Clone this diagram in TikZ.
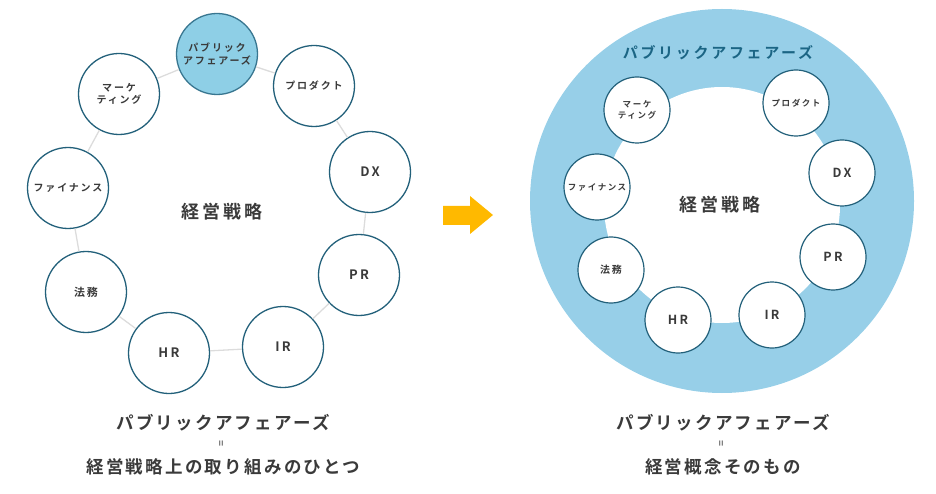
\documentclass[tikz,border=0pt]{standalone}
\usepackage{fontspec}
\newfontfamily\jp{Noto Sans CJK JP Bold}[LetterSpace=18]
\newfontfamily\jpc{Noto Sans CJK JP Bold}[LetterSpace=13]
\definecolor{ring}{HTML}{22607A}
\definecolor{pa}{HTML}{8ECFE6}
\definecolor{big}{HTML}{97CFE8}
\definecolor{txt}{HTML}{3A3A3A}
\definecolor{ttl}{HTML}{1B6584}
\definecolor{link}{HTML}{DCDCDC}
\definecolor{arr}{HTML}{FFB900}
\begin{document}
\begin{tikzpicture}[x=1pt,y=-1pt,
  pc/.style={circle, draw=ring, line width=1.3pt, fill=white, minimum size=81pt, inner sep=0pt, align=center, text=txt, font=\jp\fontsize{10}{12.5}\selectfont},
  pcs/.style={circle, draw=ring, line width=1.2pt, fill=white, minimum size=66pt, inner sep=0pt, align=center, text=txt, font=\jp\fontsize{8.5}{11}\selectfont},
  latin/.style={font=\jp\fontsize{13}{15}\selectfont},
  latins/.style={font=\jp\fontsize{12.5}{15}\selectfont},
  lk/.style={draw=link, line width=1.3pt},
  captxt/.style={text=txt, font=\jpc\fontsize{17.5}{20}\selectfont, inner sep=0pt},
  eqtxt/.style={text=txt!80, font=\jpc\fontsize{10}{10}\selectfont, rotate=90, inner sep=0pt},
  ctrtxt/.style={text=txt, font=\jp\fontsize{18}{20}\selectfont, inner sep=0pt}]
\useasboundingbox (0,0) rectangle (936,494);
% ---------- left ----------
\node[pc, fill=pa, draw=ring!80!pa] (pa) at (217,54) {パブリック\\アフェアーズ};
\node[pc] (prod) at (314,86) {プロダクト};
\node[pc, latin] (dx) at (370,172) {DX};
\node[pc, latin] (pr) at (359,275) {PR};
\node[pc, latin] (ir) at (283,347) {IR};
\node[pc, latin] (hr) at (169,353) {HR};
\node[pc, font=\jp\fontsize{11}{13}\selectfont] (hom) at (86,292) {法務};
\node[pc] (fin) at (68,188) {ファイナンス};
\node[pc] (mkt) at (119,94) {マーケ\\ティング};
\node[ctrtxt] (kl) at (222,212) {経営戦略};
\draw[lk] (mkt) -- (pa);
\draw[lk] (pa) -- (prod);
\draw[lk] (prod) -- (dx);
\draw[lk] (dx) -- (pr);
\draw[lk] (pr) -- (ir);
\draw[lk] (ir) -- (hr);
\draw[lk] (hr) -- (hom);
\draw[lk] (hom) -- (fin);
\draw[lk] (fin) -- (mkt);
\node[captxt] (l1) at (223,423) {パブリックアフェアーズ};
\node[eqtxt] (l2) at (222,444) {=};
\node[captxt] (l3) at (223,467) {経営戦略上の取り組みのひとつ};
% ---------- arrow ----------
\fill[arr] (443,206) -- (470,206) -- (470,196) -- (493,215) -- (470,234) -- (470,225) -- (443,225) -- cycle;
% ---------- right ----------
\fill[big] (722,201) circle (192);
\fill[white] (722,205) circle (118);
\node[text=ttl, font=\jp\fontsize{15}{18}\selectfont, inner sep=0pt] (rt) at (718,53) {パブリックアフェアーズ};
\node[pcs] (rmkt) at (637,110) {マーケ\\ティング};
\node[pcs] (rprod) at (796,103) {プロダクト};
\node[pcs, latins] (rdx) at (842,173) {DX};
\node[pcs, latins] (rpr) at (833,257) {PR};
\node[pcs, latins] (rir) at (772,315) {IR};
\node[pcs, latins] (rhr) at (678,320) {HR};
\node[pcs, font=\jp\fontsize{10}{12}\selectfont] (rhom) at (611,270) {法務};
\node[pcs] (rfin) at (597,187) {ファイナンス};
\node[ctrtxt] (kr) at (720,205) {経営戦略};
\node[captxt] (r1) at (723,423) {パブリックアフェアーズ};
\node[eqtxt] (r2) at (722,444) {=};
\node[captxt] (r3) at (723,467) {経営概念そのもの};
\end{tikzpicture}
\end{document}
